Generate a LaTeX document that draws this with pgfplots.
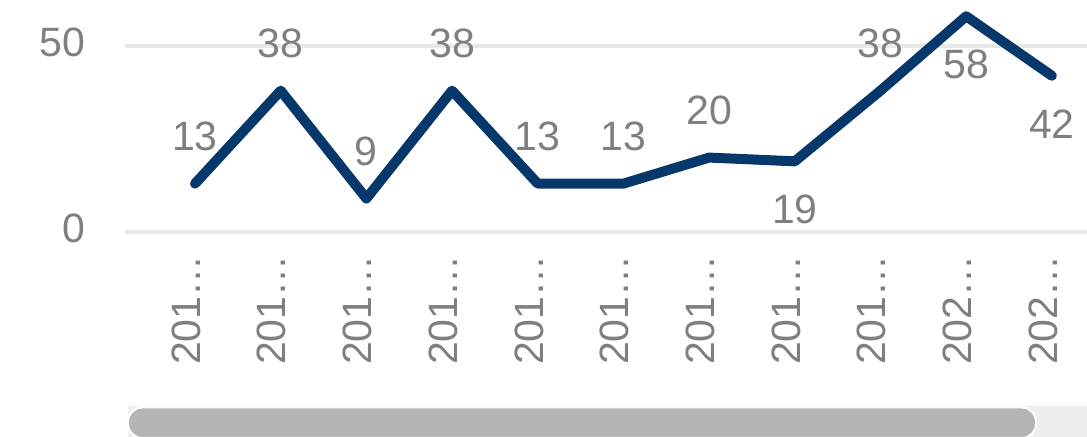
\documentclass[border=0pt]{standalone}
\usepackage{fontspec}
\setmainfont{Liberation Sans}
\usepackage{pgfplots}
\pgfplotsset{compat=1.18}
\definecolor{linec}{HTML}{06386B}
\definecolor{txt}{HTML}{7F7F7F}
\definecolor{gridc}{HTML}{E8E8E8}
\definecolor{thumb}{HTML}{B5B5B5}
\definecolor{track}{HTML}{EEEEEE}
\begin{document}
\begin{tikzpicture}
\path[use as bounding box] (0pt,0pt) rectangle (543.5pt,218.5pt);
\fill[track] (64pt,0pt) rectangle (543.5pt,15.5pt);
\fill[thumb, draw=white, line width=1pt, rounded corners=7pt] (64pt,-0.5pt) rectangle (518pt,14.75pt);
\begin{axis}[
  at={(62.5pt,102.5pt)}, anchor=south west,
  scale only axis, width=481pt, height=111.6pt,
  xmin=-0.817, xmax=10.41, ymin=0, ymax=60,
  clip=false,
  axis line style={draw=none},
  major tick length=0pt,
  ytick={0,50},
  xtick={0,...,10},
  xticklabels={201…,201…,201…,201…,201…,201…,201…,201…,201…,202…,202…},
  ymajorgrids, grid style={gridc, line width=2pt},
  /pgf/number format/assume math mode=true,
  ticklabel style={text=txt, font=\fontsize{20.5}{24}\selectfont},
  yticklabel style={anchor=mid east, inner sep=0pt, xshift=-19.5pt, yshift=-2.5pt},
  xticklabel style={rotate=90, anchor=mid east, inner sep=0pt},
  xticklabel shift=11.5pt,
]
\addplot[linec, line width=5pt, line join=round, line cap=round] coordinates {
(0,13)(1,38)(2,9)(3,38)(4,13)(5,13)(6,20)(7,19)(8,38)(9,58)(10,42)};
\addplot[draw=none, mark=none, nodes near coords,
  nodes near coords style={anchor=center, yshift=23.5pt, text=txt, font=\fontsize{20.5}{24}\selectfont}]
  coordinates {(0,13)(1,38)(2,9)(3,38)(4,13)(5,13)(6,20)(8,38)};
\addplot[draw=none, mark=none, nodes near coords,
  nodes near coords style={anchor=center, yshift=-24pt, text=txt, font=\fontsize{20.5}{24}\selectfont}]
  coordinates {(7,19)(9,58)(10,42)};
\end{axis}
\end{tikzpicture}
\end{document}
